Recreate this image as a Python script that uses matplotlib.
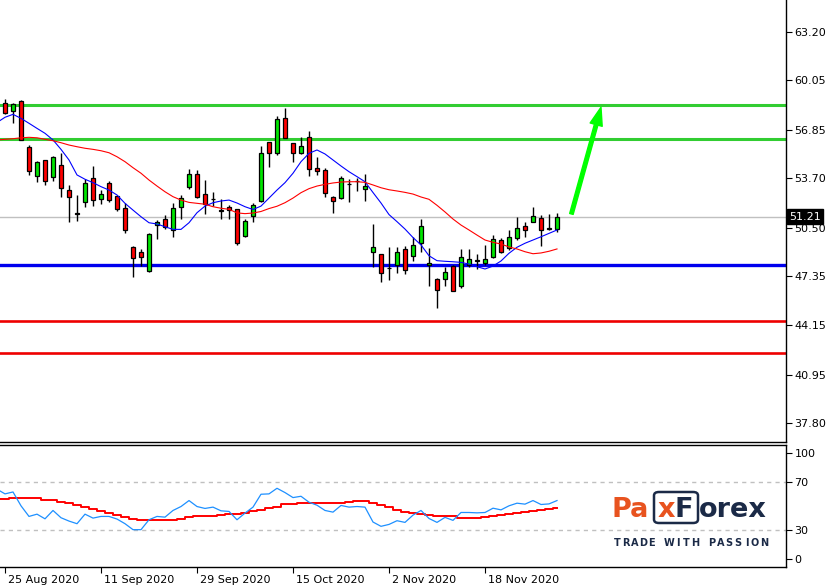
import matplotlib
matplotlib.use('Agg')
import matplotlib.pyplot as plt
import matplotlib.transforms as mtransforms
from matplotlib.patches import FancyBboxPatch
import numpy as np

# daily candles, bar index 0 = 25 Aug 2020
opens = [58.56, 58.08, 58.71, 55.70, 53.86, 54.88, 53.80, 54.55, 52.93, 51.43,
         52.14, 53.69, 52.37, 53.37, 52.54, 51.75, 49.24, 48.89, 47.70, 50.68,
         51.03, 50.34, 51.85, 53.15, 53.95, 52.65, 52.38, 51.64, 51.81, 51.68,
         49.97, 51.25, 52.24, 56.03, 55.31, 57.58, 55.96, 55.31, 56.35, 54.34,
         54.21, 52.50, 52.39, 53.32, 53.49, 52.98, 48.89, 48.78, 47.90, 48.05,
         49.11, 48.65, 49.48, 48.07, 47.18, 47.14, 47.98, 46.73, 48.07, 48.37,
         48.18, 48.60, 49.67, 49.15, 49.84, 50.60, 50.84, 51.10, 50.43, 50.38]
highs = [58.82, 58.60, 58.75, 55.85, 54.83, 54.90, 55.14, 55.35, 53.26, 52.61,
         53.63, 54.49, 52.93, 53.52, 52.56, 52.11, 49.30, 49.09, 50.12, 50.99,
         51.31, 52.07, 52.61, 54.30, 54.23, 53.58, 52.82, 52.35, 51.96, 51.70,
         51.05, 52.07, 55.79, 56.05, 57.73, 58.27, 55.98, 56.35, 56.76, 55.05,
         54.34, 52.56, 53.82, 53.63, 53.73, 53.97, 50.73, 48.80, 49.26, 49.26,
         49.32, 49.90, 51.07, 49.15, 47.25, 47.96, 48.07, 49.09, 49.09, 48.78,
         49.37, 50.01, 49.80, 50.35, 51.16, 50.88, 51.85, 51.31, 51.38, 51.46]
lows = [57.86, 57.30, 56.15, 53.91, 53.47, 53.26, 53.54, 52.50, 50.88, 50.94,
        51.85, 51.91, 52.01, 52.14, 51.59, 50.16, 47.31, 48.00, 47.63, 49.74,
        50.38, 49.90, 51.05, 53.00, 52.43, 51.38, 51.91, 51.05, 51.05, 49.38,
        49.90, 50.88, 52.17, 54.44, 55.20, 56.31, 54.77, 55.27, 53.84, 53.93,
        52.50, 51.46, 52.35, 52.17, 52.89, 52.24, 47.96, 46.95, 47.11, 47.53,
        47.48, 48.35, 48.93, 46.73, 45.26, 46.73, 46.36, 46.56, 47.92, 47.83,
        48.07, 48.50, 48.82, 49.04, 49.69, 49.90, 50.83, 49.30, 50.34, 50.23]
closes = [57.95, 58.51, 56.18, 54.18, 54.75, 53.54, 55.07, 53.08, 52.46, 51.40,
          53.37, 52.28, 52.65, 52.28, 51.68, 50.32, 48.50, 48.57, 50.06, 50.84,
          50.55, 51.75, 52.39, 53.97, 52.50, 52.02, 52.36, 51.55, 51.64, 49.51,
          50.92, 51.94, 55.31, 55.31, 57.52, 56.33, 55.31, 55.79, 54.28, 54.15,
          52.72, 52.20, 53.69, 53.31, 53.51, 53.19, 49.24, 47.53, 47.88, 48.89,
          47.74, 49.37, 50.60, 48.18, 46.45, 47.61, 46.36, 48.57, 48.44, 48.30,
          48.44, 49.73, 48.91, 49.86, 50.45, 50.34, 51.25, 50.34, 50.45, 51.21]

# moving averages, index -1 .. 69
ma_fast = [57.31, 57.65, 57.84, 57.58, 57.26, 56.93, 56.61, 56.18, 55.57, 54.88,
           53.91, 53.63, 53.41, 53.15, 52.93, 52.61, 52.07, 51.63, 51.20, 50.81,
           50.73, 50.55, 50.38, 50.38, 50.81, 51.46, 51.89, 52.11, 52.22, 52.28,
           52.09, 51.85, 51.67, 51.89, 52.41, 52.93, 53.41, 54.02, 54.77, 55.31,
           55.53, 55.27, 54.88, 54.49, 54.12, 53.80, 53.47, 52.77, 52.09, 51.34,
           50.88, 50.40, 49.85, 49.37, 48.67, 48.35, 48.31, 48.28, 48.24, 48.13,
           47.96, 47.81, 48.00, 48.33, 48.83, 49.22, 49.48, 49.69, 49.90, 50.12,
           50.34]
ma_slow = [56.18, 56.22, 56.26, 56.32, 56.35, 56.32, 56.22, 56.13, 56.00, 55.85,
           55.74, 55.64, 55.57, 55.48, 55.35, 55.09, 54.77, 54.38, 54.02, 53.58,
           53.19, 52.82, 52.50, 52.28, 52.13, 52.07, 52.01, 51.85, 51.75, 51.68,
           51.45, 51.40, 51.44, 51.54, 51.73, 51.88, 52.11, 52.41, 52.76, 53.02,
           53.19, 53.30, 53.39, 53.45, 53.47, 53.47, 53.43, 53.26, 53.08, 52.95,
           52.87, 52.78, 52.67, 52.48, 52.33, 51.94, 51.51, 51.05, 50.66, 50.34,
           50.01, 49.69, 49.54, 49.43, 49.24, 49.11, 48.93, 48.80, 48.85, 48.96,
           49.11]

# oscillator panel, index -1 .. 69
osc_main = [64.2, 60.3, 61.9, 50.3, 41.4, 43.3, 39.4, 46.4, 40.3, 37.5,
            35.3, 43.3, 40.0, 41.4, 41.4, 39.2, 35.3, 30.3, 30.3, 38.6,
            41.4, 40.8, 46.4, 49.7, 54.7, 49.7, 48.1, 49.2, 46.1, 45.6,
            38.6, 44.2, 49.2, 60.0, 60.3, 65.0, 61.4, 57.2, 58.3, 53.3,
            50.8, 46.4, 45.0, 50.6, 49.2, 49.7, 49.2, 36.7, 33.1, 34.7,
            37.8, 36.4, 42.5, 46.4, 39.7, 36.4, 40.6, 38.1, 44.7, 44.7,
            44.4, 44.7, 48.3, 46.9, 50.3, 52.5, 51.7, 54.7, 51.4, 51.9,
            54.7]
osc_signal = [55.8, 55.8, 56.7, 56.7, 56.7, 56.7, 55.3, 55.3, 53.9, 52.5,
              50.6, 49.2, 47.5, 46.1, 44.2, 42.5, 40.8, 39.2, 38.6, 38.6,
              38.6, 38.6, 38.6, 39.4, 40.6, 41.4, 41.9, 41.9, 42.5, 43.1,
              43.6, 44.2, 45.8, 46.9, 48.1, 49.7, 51.4, 51.9, 52.5, 52.5,
              52.5, 52.5, 52.5, 52.5, 53.3, 54.2, 54.2, 52.5, 50.6, 48.9,
              46.9, 45.0, 44.2, 43.3, 42.5, 41.9, 41.7, 41.4, 40.0, 40.0,
              40.0, 40.6, 41.9, 42.8, 43.6, 44.4, 45.3, 46.1, 46.9, 47.8,
              48.3]

green_levels = [58.43, 56.23]
blue_level = 48.10
red_levels = [44.44, 42.38]
last_price = 51.21

price_ticks = [63.20, 60.05, 56.85, 53.70, 50.50, 47.35, 44.15, 40.95, 37.80]
date_pos = [0, 12, 24, 36, 48, 60]
date_labels = ['25 Aug 2020', '11 Sep 2020', '29 Sep 2020', '15 Oct 2020',
               '2 Nov 2020', '18 Nov 2020']

W, H = 832, 587
fig = plt.figure(figsize=(W / 100, H / 100), dpi=100)
fig.patch.set_facecolor('white')

ax = fig.add_axes([0, 145 / H, 786 / W, 442 / H])
ax2 = fig.add_axes([0, 20 / H, 786 / W, 122.5 / H])

xlim = (-0.625, 97.625)

# ---- price panel
ax.set_xlim(*xlim)
ax.set_ylim(36.59, 65.256)
for s in ['top', 'left']:
    ax.spines[s].set_visible(False)
ax.spines['right'].set_linewidth(1.0)
ax.spines['bottom'].set_linewidth(1.0)
ax.yaxis.tick_right()
ax.set_yticks(price_ticks)
ax.set_yticklabels([f'{t:.2f}' for t in price_ticks])
ax.tick_params(axis='y', direction='out', length=4, width=0.8, labelsize=8, pad=2)
ax.set_xticks([])

ax.axhline(last_price, color='#c0c0c0', lw=1, zorder=1)
for lv in green_levels:
    ax.axhline(lv, color='#32cd32', lw=2.2, zorder=2)
ax.axhline(blue_level, color='#0000ee', lw=2.4, zorder=2)
for lv in red_levels:
    ax.axhline(lv, color='#ee0000', lw=1.9, zorder=2)

o = np.array(opens); c = np.array(closes)
x = np.arange(len(o))
up = c >= o
ax.vlines(x, lows, highs, color='black', lw=1, zorder=3)
ax.bar(x, np.abs(c - o), bottom=np.minimum(o, c), width=0.62,
       color=np.where(up, '#00e600', '#ff0000'), edgecolor='black', lw=0.9, zorder=4)

xm = np.arange(-1, len(ma_fast) - 1)
ax.plot(xm, ma_fast, color='#0000ff', lw=0.8, zorder=5)
ax.plot(xm, ma_slow, color='#ff0000', lw=0.8, zorder=5)

ax.annotate('', xy=(74.5, 58.30), xytext=(70.8, 51.38),
            arrowprops=dict(width=2.6, headwidth=9, headlength=13,
                            color='#00ff00', shrink=0), zorder=6)

tr = mtransforms.blended_transform_factory(ax.transAxes, ax.transData)
ax.text(1.004, last_price, '51.21', transform=tr, color='white', fontsize=8,
        ha='left', va='center', clip_on=False, zorder=10,
        bbox=dict(boxstyle='square,pad=0.2', fc='black', ec='black'))

# ---- oscillator panel
ax2.set_xlim(*xlim)
ax2.set_ylim(-1.0, 101.7)
ax2.spines['left'].set_visible(False)
for s in ['top', 'right', 'bottom']:
    ax2.spines[s].set_linewidth(1.0)
ax2.axhline(70, color='#c0c0c0', lw=1, ls=(0, (3, 3)))
ax2.axhline(30, color='#c0c0c0', lw=1, ls=(0, (3, 3)))
ax2.plot(xm, osc_signal, color='#ff0000', lw=1.4, drawstyle='steps-mid')
ax2.plot(xm, osc_main, color='#1e90ff', lw=0.9)
ax2.yaxis.tick_right()
ax2.set_yticks([94.6, 70, 30, 5.7])
ax2.set_yticklabels(['100', '70', '30', '0'])
ax2.tick_params(axis='y', direction='out', length=4, width=0.8, labelsize=8, pad=2)
ax2.set_xticks(date_pos)
ax2.set_xticklabels(date_labels)
ax2.tick_params(axis='x', direction='out', length=4, width=0.8, labelsize=8, pad=2)
off = mtransforms.ScaledTranslation(3 / 100, 0, fig.dpi_scale_trans)
for lab in ax2.get_xticklabels():
    lab.set_horizontalalignment('left')
    lab.set_transform(lab.get_transform() + off)

# ---- logo
orange = '#e8531f'
navy = '#1b2a47'
def fx(px):
    return px / W
def fy(py):
    return 1 - py / H

fs = 19.5
fig.text(fx(612), fy(517), 'Pa', color=orange, fontsize=fs, fontweight='bold',
         ha='left', va='baseline')
fig.text(fx(666), fy(517), 'x', color=orange, fontsize=fs, fontweight='bold',
         ha='center', va='baseline')
fig.text(fx(684), fy(517), 'F', color=navy, fontsize=fs, fontweight='bold',
         ha='center', va='baseline')
fig.text(fx(699), fy(517), 'orex', color=navy, fontsize=fs, fontweight='bold',
         ha='left', va='baseline')
box = FancyBboxPatch((fx(654), fy(523)), fx(698) - fx(654), fy(492) - fy(523),
                     boxstyle='round,pad=0,rounding_size=0.006',
                     transform=fig.transFigure, fc='none', ec=navy, lw=1.8)
fig.patches.append(box)

tag = 'TRADE WITH PASSION'
step = (768 - 613) / len(tag)
for k, ch in enumerate(tag):
    fig.text(fx(613 + (k + 0.5) * step), fy(546), ch, color=navy, fontsize=7,
             fontweight='bold', ha='center', va='baseline')

fig.savefig('out.png', dpi=100, facecolor='white')
